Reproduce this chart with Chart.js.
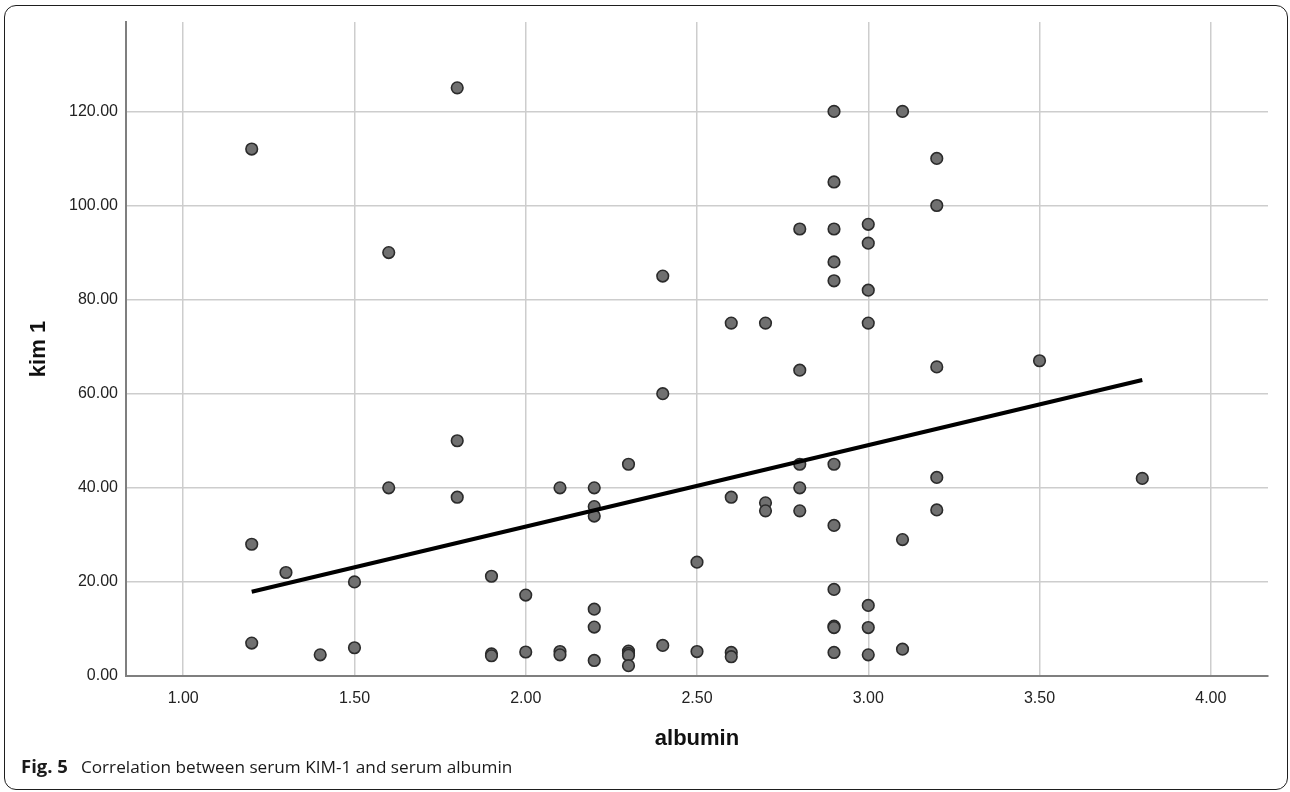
<!DOCTYPE html>
<html>
<head>
<meta charset="utf-8">
<script src="https://cdn.jsdelivr.net/npm/chart.js@4.4.1/dist/chart.umd.min.js"></script>
<style>
  html, body { margin: 0; padding: 0; background: #ffffff; }
  #wrap { position: relative; width: 1290px; height: 792px; overflow: hidden; }
  #chart { position: absolute; left: 0; top: 0; }
  #frame {
    position: absolute; left: 4px; top: 5px; width: 1282px; height: 783px;
    border: 1.5px solid #1e1e1e; border-radius: 12px; pointer-events: none;
  }
  #caption {
    position: absolute; left: 21px; top: 753px;
    font-family: "Open Sans", "Noto Sans", sans-serif; font-size: 17.2px; color: #1a1a1a;
    white-space: nowrap;
  }
  #caption b { font-weight: 700; font-size: 18.5px; margin-right: 13px; }
</style>
</head>
<body>
<div id="wrap">
  <canvas id="chart" width="1290" height="792"></canvas>
  <div id="frame"></div>
  <div id="caption"><b>Fig. 5</b>Correlation between serum KIM-1 and serum albumin</div>
</div>
<script>
// Serum albumin (g/dL) of each patient
const albumin = [
  1.2, 1.2, 1.2,
  1.3,
  1.4,
  1.5, 1.5,
  1.6, 1.6,
  1.8, 1.8, 1.8,
  1.9, 1.9, 1.9,
  2.0, 2.0,
  2.1, 2.1, 2.1,
  2.2, 2.2, 2.2, 2.2, 2.2, 2.2,
  2.3, 2.3, 2.3, 2.3, 2.3,
  2.4, 2.4, 2.4,
  2.5, 2.5,
  2.6, 2.6, 2.6, 2.6,
  2.7, 2.7, 2.7,
  2.8, 2.8, 2.8, 2.8, 2.8,
  2.9, 2.9, 2.9, 2.9, 2.9, 2.9, 2.9, 2.9, 2.9, 2.9, 2.9,
  3.0, 3.0, 3.0, 3.0, 3.0, 3.0, 3.0,
  3.1, 3.1, 3.1,
  3.2, 3.2, 3.2, 3.2, 3.2,
  3.5,
  3.8
];

// Serum KIM-1 of the same patients, same order
const kim1 = [
  112, 28, 7.0,
  22,
  4.5,
  20, 6.0,
  90, 40,
  125, 50, 38,
  21.2, 4.7, 4.3,
  17.2, 5.1,
  40, 5.2, 4.5,
  40, 36, 34, 14.2, 10.4, 3.3,
  45, 5.3, 4.8, 4.4, 2.2,
  85, 60, 6.5,
  24.2, 5.2,
  75, 38, 5.0, 4.1,
  75, 36.8, 35.1,
  95, 65, 45, 40, 35.1,
  120, 105, 95, 88, 84, 45, 32, 18.4, 10.6, 10.3, 5.0,
  96, 92, 82, 75, 15, 10.3, 4.5,
  120, 29, 5.7,
  110, 100, 65.7, 42.2, 35.3,
  67,
  42
];

// Fitted linear trend, start and end
const fitAlbumin = [1.2, 3.8];
const fitKim1 = [17.9, 62.9];

// Axis ranges and tick steps
const xRange = [0.833, 4.167];
const yRange = [0, 139];
const xTickStep = 0.5;
const yTickStep = 20;

const points = albumin.map((a, i) => ({ x: a, y: kim1[i] }));
const fitLine = fitAlbumin.map((a, i) => ({ x: a, y: fitKim1[i] }));

const gridGrey = '#cdcdcd';
const axisGrey = '#7f7f7f';
const tickFont = { family: '"Liberation Sans", Arial, sans-serif', size: 16 };
const titleFont = { family: '"Liberation Sans", Arial, sans-serif', size: 22, weight: 'bold' };

new Chart(document.getElementById('chart'), {
  type: 'scatter',
  data: {
    datasets: [
      {
        type: 'line',
        data: fitLine,
        borderColor: '#000000',
        borderWidth: 4,
        pointRadius: 0,
        fill: false,
        order: 0
      },
      {
        data: points,
        backgroundColor: '#707070',
        borderColor: '#2b2b2b',
        borderWidth: 1.6,
        pointRadius: 5.8,
        pointHoverRadius: 5.8,
        order: 1
      }
    ]
  },
  options: {
    responsive: false,
    animation: false,
    events: [],
    layout: { padding: { left: 0, top: 22, right: 22, bottom: 36 } },
    plugins: {
      legend: { display: false },
      tooltip: { enabled: false }
    },
    scales: {
      x: {
        type: 'linear',
        min: xRange[0],
        max: xRange[1],
        afterFit: (s) => { s.height = 80; },
        border: { display: true, color: axisGrey, width: 2 },
        grid: { color: gridGrey, lineWidth: 1.5, drawTicks: false },
        ticks: {
          stepSize: xTickStep,
          includeBounds: false,
          padding: 13,
          color: '#222222',
          font: tickFont,
          callback: (v) => Number(v).toFixed(2)
        },
        title: {
          display: true,
          text: 'albumin',
          color: '#111111',
          font: titleFont,
          padding: { top: 0, bottom: 4 }
        }
      },
      y: {
        type: 'linear',
        min: yRange[0],
        max: yRange[1],
        afterFit: (s) => { s.width = 126; },
        border: { display: true, color: axisGrey, width: 2 },
        grid: { color: gridGrey, lineWidth: 1.5, drawTicks: false },
        ticks: {
          stepSize: yTickStep,
          includeBounds: false,
          padding: 8,
          color: '#222222',
          font: tickFont,
          callback: (v) => Number(v).toFixed(2)
        },
        title: {
          display: true,
          text: 'kim 1',
          color: '#111111',
          font: titleFont,
          padding: { top: 26, bottom: 0 }
        }
      }
    }
  }
});
</script>
</body>
</html>
